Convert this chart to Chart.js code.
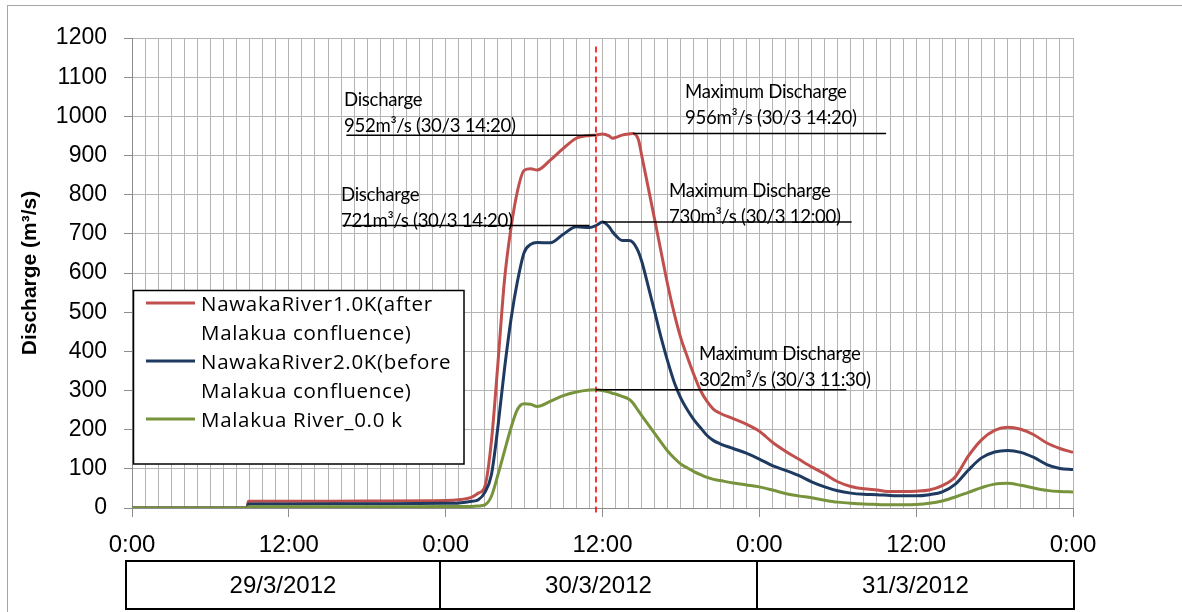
<!DOCTYPE html>
<html>
<head>
<meta charset="utf-8">
<title>Discharge hydrograph</title>
<script src="https://cdn.jsdelivr.net/npm/chart.js@4.4.1/dist/chart.umd.min.js"></script>
<style>
  html, body { margin: 0; padding: 0; background: #fff; }
  canvas { display: block; }
</style>
</head>
<body>
<canvas id="dischargeChart" width="1182" height="612"></canvas>
<script>
// hours counted from 29/3/2012 0:00
const hours = [
  0, 8.8, 8.9, 12, 18, 24, 25, 26, 26.5, 27, 27.5, 28, 28.5, 29, 29.5, 30, 30.5, 31,
  32, 33, 34, 35, 35.5, 36, 36.5, 36.75, 37, 37.5, 38, 38.33, 38.75, 39, 39.5, 40,
  40.5, 41, 41.5, 42, 42.5, 43, 43.5, 44, 44.5, 45, 46, 47, 48, 49, 50, 51, 52, 53,
  54, 55, 56, 57, 58, 59, 60, 61, 62, 63, 64, 65, 66, 67, 68, 69, 70, 71, 72
];

// discharge, m3/s
const nawaka1 = [
  0, 0, 17, 17, 18, 19, 21, 28, 38, 55, 170, 370, 582, 715, 810, 862, 866, 863,
  888, 918, 944, 951, 952, 955, 950, 944, 946, 952, 955, 956, 940, 900, 818, 735,
  651, 568, 495, 433, 385, 340, 300, 272, 252, 242, 228, 214, 196, 168, 145, 125, 105, 87,
  67, 55, 49, 46, 42, 42, 43, 46, 57, 80, 133, 174, 198, 206, 201, 187, 166, 152, 142
];
const nawaka2 = [
  0, 0, 10, 10, 11, 12, 13, 17, 21, 40, 85, 208, 355, 482, 580, 652, 673, 678,
  677, 699, 718, 716, 721, 730, 718, 706, 696, 683, 683, 678, 654, 630, 566, 500,
  433, 373, 320, 280, 250, 225, 205, 185, 172, 164, 152, 140, 125, 108, 96, 83, 67, 54,
  44, 38, 35, 34, 32, 31, 31, 34, 41, 61, 97, 128, 143, 147, 142, 129, 111, 101, 98
];
const malakua = [
  0, 0, 3, 3, 3, 4, 4, 4, 5, 8, 30, 85, 145, 205, 252, 266, 265, 259,
  272, 287, 296, 301, 302, 300, 296, 293, 291, 285, 278, 268, 248, 236, 213, 190,
  167, 145, 127, 112, 102, 93, 85, 78, 73, 70, 64, 59, 54, 46, 37, 31, 26, 20,
  15, 12, 10, 9, 8, 8, 9, 12, 18, 28, 40, 52, 61, 63, 58, 51, 45, 42, 41
];

const seriesNames = [
  ['NawakaRiver1.0K(after', 'Malakua confluence)'],
  ['NawakaRiver2.0K(before', 'Malakua confluence)'],
  ['Malakua River_0.0 k']
];
const seriesColors = ['#C0504D', '#1F3A60', '#77933C'];

const tickHours = [0, 12, 24, 36, 48, 60, 72];
const tickLabels = ['0:00', '12:00', '0:00', '12:00', '0:00', '12:00', '0:00'];
const dates = ['29/3/2012', '30/3/2012', '31/3/2012'];

// time of the Malakua peak, marked by the dashed line
const peakHour = 35.5;

// leader lines under the notes: hour range and the discharge they point at
const leaderFrom = [16.4, 38.33, 16.1, 36.0, 35.5];
const leaderTo = [35.5, 57.7, 35.0, 55.06, 54.65];
const leaderValue = [952, 956, 721, 730, 302];

const noteText = [
  ['Discharge', '952m³/s (30/3 14:20)'],
  ['Maximum Discharge', '956m³/s (30/3 14:20)'],
  ['Discharge', '721m³/s (30/3 14:20)'],
  ['Maximum Discharge', '730m³/s (30/3 12:00)'],
  ['Maximum Discharge', '302m³/s (30/3 11:30)']
];
// left edge and first baseline of each note, px
const notePos = [[344, 106], [685, 98], [341, 201], [669, 197], [699, 360]];

const toPoints = vals => hours.map((h, i) => ({ x: h, y: vals[i] }));

const datasets = [nawaka1, nawaka2, malakua].map((vals, i) => ({
  label: seriesNames[i].join(' '),
  data: toPoints(vals),
  borderColor: seriesColors[i],
  borderWidth: 3,
  pointRadius: 0,
  cubicInterpolationMode: 'monotone',
  order: 3 - i
}));

leaderValue.forEach((v, i) => {
  datasets.push({
    data: [{ x: leaderFrom[i], y: v }, { x: leaderTo[i], y: v }],
    borderColor: '#000',
    borderWidth: 1.5,
    pointRadius: 0,
    order: 0
  });
});

datasets.push({
  data: [{ x: peakHour, y: 1178 }, { x: peakHour, y: -12 }],
  borderColor: '#FF0000',
  borderWidth: 1.6,
  borderDash: [6, 4],
  pointRadius: 0,
  clip: false,
  order: 0
});

const decorations = {
  id: 'decorations',
  beforeDraw(chart) {
    const ctx = chart.ctx;
    ctx.save();
    ctx.fillStyle = '#fff';
    ctx.fillRect(0, 0, chart.width, chart.height);
    ctx.strokeStyle = '#A6A6A6';
    ctx.lineWidth = 1;
    ctx.strokeRect(7.5, 5.5, chart.width + 20, chart.height + 20);
    ctx.restore();
  },
  afterDraw(chart) {
    const ctx = chart.ctx;
    ctx.save();

    // notes
    ctx.fillStyle = '#000';
    ctx.font = '18.6px Lato';
    ctx.letterSpacing = '-0.3px';
    ctx.textBaseline = 'alphabetic';
    noteText.forEach((lines, i) => {
      const [x, y] = notePos[i];
      lines.forEach((t, j) => ctx.fillText(t, x, y + j * 26));
    });
    ctx.letterSpacing = '0px';

    // legend
    ctx.fillStyle = '#fff';
    ctx.fillRect(133.5, 290.5, 330.5, 173.5);
    ctx.strokeStyle = '#000';
    ctx.lineWidth = 1.5;
    ctx.strokeRect(133.5, 290.5, 330.5, 173.5);
    ctx.font = '20.5px "Open Sans"';
    ctx.letterSpacing = '0.7px';
    ctx.fillStyle = '#000';
    let base = 310.5;
    seriesNames.forEach((lines, i) => {
      ctx.strokeStyle = seriesColors[i];
      ctx.lineWidth = 3;
      ctx.beginPath();
      ctx.moveTo(146, base - 7.5);
      ctx.lineTo(195, base - 7.5);
      ctx.stroke();
      lines.forEach(t => {
        ctx.fillText(t, 201, base);
        base += 29;
      });
    });
    ctx.letterSpacing = '0px';

    // date row
    const edges = [126, 440, 757, 1074];
    ctx.strokeStyle = '#000';
    ctx.lineWidth = 2;
    ctx.font = '24px "Liberation Sans"';
    ctx.textAlign = 'center';
    ctx.textBaseline = 'middle';
    dates.forEach((d, i) => {
      ctx.strokeRect(edges[i], 561, edges[i + 1] - edges[i], 48);
      ctx.fillText(d, (edges[i] + edges[i + 1]) / 2, 586);
    });
    ctx.restore();
  }
};

new Chart(document.getElementById('dischargeChart'), {
  type: 'line',
  data: { datasets },
  options: {
    responsive: false,
    animation: false,
    events: [],
    layout: { padding: { top: 38, right: 109, left: 0, bottom: 0 } },
    plugins: { legend: { display: false }, tooltip: { enabled: false } },
    scales: {
      x: {
        type: 'linear',
        min: 0,
        max: 72,
        afterFit: s => { s.height = 104; },
        border: { color: '#8C8C8C', width: 1 },
        grid: {
          color: '#B4B4B4',
          tickLength: 9,
          tickColor: c => (c.tick && tickHours.includes(c.tick.value)) ? '#8C8C8C' : 'rgba(0,0,0,0)'
        },
        ticks: {
          stepSize: 1,
          autoSkip: false,
          maxTicksLimit: 200,
          maxRotation: 0,
          minRotation: 0,
          padding: 14,
          color: '#000',
          font: { family: '"Liberation Sans"', size: 24 },
          callback: v => {
            const i = tickHours.indexOf(v);
            return i >= 0 ? tickLabels[i] : '';
          }
        }
      },
      y: {
        min: 0,
        max: 1200,
        afterFit: s => { s.width = 132; },
        border: { color: '#8C8C8C', width: 1 },
        grid: { color: '#B4B4B4', tickLength: 8, tickColor: '#8C8C8C' },
        ticks: {
          stepSize: 100,
          padding: 17,
          color: '#000',
          font: { family: '"Liberation Sans"', size: 23 },
          callback: v => String(v)
        },
        title: {
          display: true,
          text: 'Discharge (m³/s)',
          color: '#000',
          font: { family: '"Liberation Sans"', size: 21, weight: 'bold' },
          padding: { top: 18, bottom: 0 }
        }
      }
    }
  },
  plugins: [decorations]
});
</script>
</body>
</html>
